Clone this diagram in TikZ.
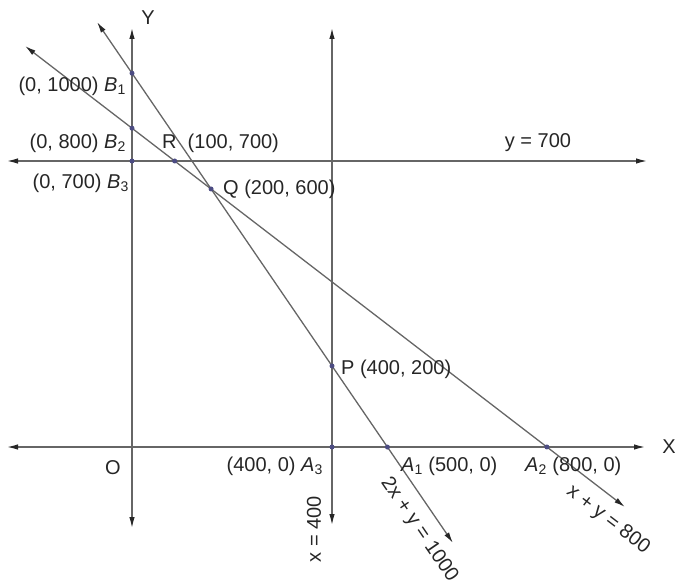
\documentclass[tikz,border=0pt]{standalone}
\usepackage{fontspec}
\setmainfont{Liberation Sans}
\usetikzlibrary{arrows.meta}

\begin{document}
\begin{tikzpicture}[x=1pt,y=-1pt,>={Latex[length=11pt,width=5.5pt,color=black!85]},line/.style={draw=black!60,line width=1.3pt},dot/.style={circle,fill=blue!30!black!70,inner sep=0pt,minimum size=5pt},lbl/.style={font=\fontsize{20}{23}\selectfont,text=black!85,inner sep=1pt}]
\useasboundingbox (0,0) rectangle (675,586);
% ends of the lines
\coordinate (xl) at (7,447); \coordinate (xr) at (645,447);
\coordinate (yt) at (132,28); \coordinate (yb) at (132,528);
\coordinate (vt) at (332,28); \coordinate (vb) at (332,525);
\coordinate (hl) at (7,161); \coordinate (hr) at (647,161);
\coordinate (ms) at (97,22); \coordinate (me) at (453,543);
\coordinate (ns) at (25,46); \coordinate (ne) at (625,507);
\draw[line,<->] (xl)--(xr); \draw[line,<->] (yt)--(yb);
\draw[line,<->] (vt)--(vb); \draw[line,<->] (hl)--(hr);
\draw[line,<->] (ms)--(me); \draw[line,<->] (ns)--(ne);
% corner points
\coordinate (B1) at (intersection of ms--me and yt--yb);
\coordinate (B2) at (intersection of ns--ne and yt--yb);
\coordinate (B3) at (intersection of hl--hr and yt--yb);
\coordinate (R) at (intersection of ns--ne and hl--hr);
\coordinate (Q) at (intersection of ms--me and ns--ne);
\coordinate (P) at (intersection of ms--me and vt--vb);
\coordinate (A3) at (intersection of xl--xr and vt--vb);
\coordinate (A1) at (intersection of ms--me and xl--xr);
\coordinate (A2) at (intersection of ns--ne and xl--xr);
\foreach \p in {B1,B2,B3,R,Q,P,A1,A2,A3}{\node[dot] at (\p) {};}
% labels
\node[lbl] (ylab) at (148,18) {Y};
\node[lbl] (xlab) at (669,447) {X};
\node[lbl] (olab) at (113,468) {O};
\node[lbl,anchor=east] (b1lab) at (127,86) {(0, 1000) \textit{B}\textsubscript{1}};
\node[lbl,anchor=east] (b2lab) at (127,143) {(0, 800) \textit{B}\textsubscript{2}};
\node[lbl,anchor=east] (b3lab) at (130,183) {(0, 700) \textit{B}\textsubscript{3}};
\node[lbl,anchor=west] (rlab) at (161,143) {R\ \ (100, 700)};
\node[lbl,anchor=west] (qlab) at (222,189) {Q\ (200, 600)};
\node[lbl] (hlab) at (538,143) {y = 700};
\node[lbl,anchor=west] (plab) at (340,369) {P (400, 200)};
\node[lbl,anchor=east] (a3lab) at (324,466) {(400, 0) \textit{A}\textsubscript{3}};
\node[lbl,anchor=west] (a1lab) at (400,466) {\textit{A}\textsubscript{1} (500, 0)};
\node[lbl,anchor=west] (a2lab) at (524,466) {\textit{A}\textsubscript{2} (800, 0)};
\node[lbl,rotate=90] (vlab) at (314,529) {x = 400};
\node[lbl,rotate=-55.6] (mlab) at (419,530) {2x + y = 1000};
\node[lbl,rotate=-37.5] (nlab) at (608,520) {x + y = 800};
\end{tikzpicture}
\end{document}
